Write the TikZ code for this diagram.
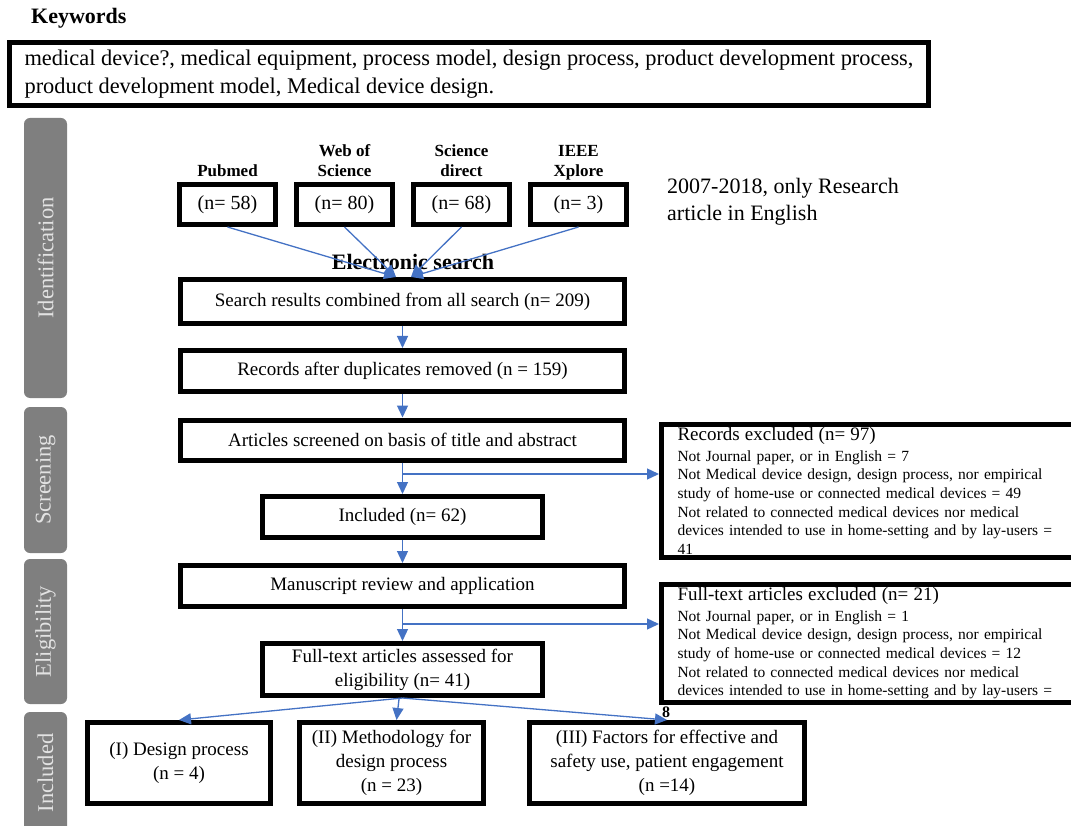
\documentclass[tikz,border=0pt]{standalone}
\usepackage{fontspec}
\setmainfont{Liberation Serif}
\usetikzlibrary{arrows.meta,positioning}
\definecolor{arrowblue}{HTML}{4472C4}
\definecolor{bargray}{HTML}{7F7F7F}
\definecolor{barlabel}{HTML}{E2E2E2}

\begin{document}
\begin{tikzpicture}[x=1pt,y=-1pt,>={Triangle[length=12pt,width=11pt]},
  box/.style={draw,line width=5pt,inner sep=2pt,align=center,font=\fontsize{19}{24}\selectfont},
  srcbox/.style={box,minimum width=96pt,minimum height=40pt,font=\fontsize{20}{24}\selectfont},
  src/.style={font=\bfseries\fontsize{17}{20}\selectfont,align=center,text depth=0pt,inner sep=1pt},
  exbox/.style={draw,line width=5pt,anchor=north west,text width=400pt,inner xsep=16pt,inner ysep=3pt,align=left,font=\fontsize{15.5}{18.6}\selectfont},
  arr/.style={->,arrowblue,line width=1.3pt},
  bar/.style={fill=bargray,rounded corners=6pt},
  barlbl/.style={rotate=90,text=barlabel,font=\fontsize{22.5}{27}\selectfont}]
\useasboundingbox (0,0) rectangle (1071,826);
% keywords
\node[anchor=west,inner sep=0pt,font=\bfseries\fontsize{22}{26}\selectfont] (kwlbl) at (31,18) {Keywords};
\node[box,minimum width=919pt,minimum height=63pt,align=left,font=\fontsize{22.4}{28}\selectfont] (kwbox) at (469,74) {medical device?, medical equipment, process model, design process, product development process,\\product development model, Medical device design.};
% phase bars
\fill[bar] (24,118) rectangle (67,398); \node[barlbl] (idlbl) at (45.5,258) {Identification};
\fill[bar] (24,407) rectangle (67,553); \node[barlbl] (sclbl) at (45.5,480) {Screening};
\fill[bar] (24,559) rectangle (67,704); \node[barlbl] (ellbl) at (45.5,631.5) {Eligibility};
\fill[bar] (24,712) rectangle (67,850); \node[barlbl] (inlbl) at (45.5,773) {Included};
% databases
\foreach \nm/\x/\lbl/\n in {pm/227.5/Pubmed/58,wos/344.5/{Web of\\Science}/80,sd/461.5/{Science\\direct}/68,ieee/578.5/{IEEE\\Xplore}/3}{
  \node[srcbox] (\nm) at (\x,204.5) {(n= \n)};
  \node[src,above=4pt of \nm] (\nm lbl) {\lbl};}
\node[anchor=north west,align=left,inner sep=0pt,font=\fontsize{22}{27}\selectfont] (yrs) at (667,178) {2007-2018, only Research\\article in English};
\node[font=\bfseries\fontsize{22}{26}\selectfont] (esrch) at (413,262) {Electronic search};
% main flow
\node[box,minimum width=444pt,minimum height=44pt] (srch) at (402.5,301.5) {Search results combined from all search (n= 209)};
\node[box,minimum width=444pt,minimum height=41pt] (dup) at (402.5,371) {Records after duplicates removed (n = 159)};
\node[box,minimum width=444pt,minimum height=40pt] (scr) at (402.5,440) {Articles screened on basis of title and abstract};
\node[box,minimum width=280pt,minimum height=41pt] (inc) at (402.5,517) {Included (n= 62)};
\node[box,minimum width=444pt,minimum height=41pt] (man) at (402.5,586) {Manuscript review and application};
\node[box,minimum width=280pt,minimum height=52pt] (ft) at (402.5,669.5) {Full-text articles assessed for\\eligibility (n= 41)};
\node[box,minimum width=183pt,minimum height=81pt] (grpA) at (179,763) {(I) Design process\\(n = 4)};
\node[box,minimum width=184pt,minimum height=81pt] (grpB) at (391.5,763) {(II) Methodology for\\design process\\(n = 23)};
\node[box,minimum width=275pt,minimum height=81pt] (grpC) at (667,763) {(III) Factors for effective and\\safety use, patient engagement\\(n =14)};
% exclusions
\node[exbox] (exc1) at (659,422) {{\fontsize{19}{19}\selectfont Records excluded (n= 97)}\\[2pt]Not Journal paper, or in English = 7\\Not Medical device design, design process, nor empirical\\study of home-use or connected medical devices = 49\\Not related to connected medical devices nor medical\\devices intended to use in home-setting and by lay-users =\\41};
\node[exbox] (exc2) at (659,582) {{\fontsize{19}{19}\selectfont Full-text articles excluded (n= 21)}\\[2pt]Not Journal paper, or in English = 1\\Not Medical device design, design process, nor empirical\\study of home-use or connected medical devices = 12\\Not related to connected medical devices nor medical\\devices intended to use in home-setting and by lay-users =};
\node[inner sep=0pt,font=\bfseries\fontsize{16}{18}\selectfont] (exc2end) at (666,712) {8};
% connectors
\coordinate (tipL) at (396,277); \coordinate (tipR) at (411,277);
\draw[arr] (pm.south) -- (tipL); \draw[arr] (wos.south) -- (tipL);
\draw[arr] (sd.south) -- (tipR); \draw[arr] (ieee.south) -- (tipR);
\draw[arr] (srch) -- (dup); \draw[arr] (dup) -- (scr); \draw[arr] (scr) -- (inc);
\draw[arr] (inc) -- (man); \draw[arr] (man) -- (ft);
\coordinate (brA) at (402.5,474); \coordinate (brB) at (402.5,624);
\draw[arr] (brA) -- (brA -| exc1.west); \draw[arr] (brB) -- (brB -| exc2.west);
\draw[arr] (ft.south) -- (grpA.north); \draw[arr] (ft) -- (grpB); \draw[arr] (ft.south) -- (grpC.north);
\end{tikzpicture}
\end{document}
